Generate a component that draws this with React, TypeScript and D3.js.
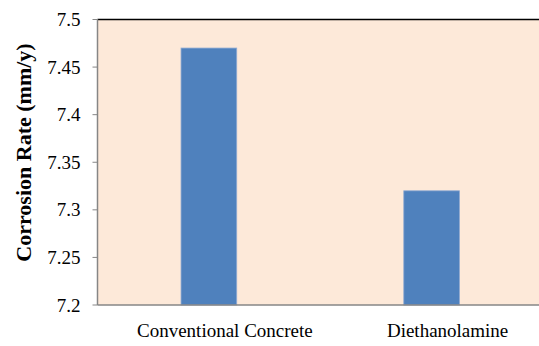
import React from "react";
import * as d3 from "d3";

const categories = ["Conventional Concrete", "Diethanolamine"];
const corrosionRates = [7.47, 7.32];
const yTicks = [7.2, 7.25, 7.3, 7.35, 7.4, 7.45, 7.5];
const yLabel = "Corrosion Rate (mm/y)";

const W = 539;
const H = 346;
const margin = { left: 97.5, top: 19.5, right: -4, bottom: 41 };
const FONT = "Liberation Serif";

export default function App() {
  const x0 = margin.left;
  const x1 = W - margin.right;
  const y0 = H - margin.bottom;
  const y1 = margin.top;

  const x = d3.scaleBand<string>().domain(categories).range([x0, x1]).paddingInner(0.75).paddingOuter(0.375);
  const y = d3.scaleLinear().domain([7.2, 7.5]).range([y0, y1]);

  return (
    <svg width={W} height={H} style={{ position: "absolute", left: 0, top: 0, fontFamily: FONT }}>
      <rect x={x0} y={y1} width={x1 - x0} height={y0 - y1} fill="#FDE9D9" />
      {categories.map((c, i) => (
        <rect
          key={c}
          x={x(c)!}
          y={y(corrosionRates[i])}
          width={x.bandwidth()}
          height={y0 - y(corrosionRates[i])}
          fill="#4F81BD"
          stroke="#8FAAD2"
          strokeWidth={0.8}
        />
      ))}
      <line x1={x0} x2={x1} y1={y1} y2={y1} stroke="#000" strokeWidth={1.5} />
      <line x1={x0} x2={x0} y1={y1} y2={y0} stroke="#868686" strokeWidth={1.5} />
      <line x1={x0} x2={x1} y1={y0} y2={y0} stroke="#868686" strokeWidth={1.5} />
      {yTicks.map((t) => (
        <g key={t}>
          <line x1={x0 - 5} x2={x0} y1={y(t)} y2={y(t)} stroke="#868686" strokeWidth={1} />
          <text x={80.5} y={y(t) + 6.5} textAnchor="end" fontSize={19} fill="#000" style={{ fontFamily: FONT }}>
            {d3.format("")(t)}
          </text>
        </g>
      ))}
      {categories.map((c) => (
        <text
          key={c}
          x={x(c)! + x.bandwidth() / 2 + 16}
          y={337}
          textAnchor="middle"
          fontSize={19}
          fill="#000"
          style={{ fontFamily: FONT }}
        >
          {c}
        </text>
      ))}
      <text
        transform={`translate(31,152.5) rotate(-90)`}
        textAnchor="middle"
        fontSize={22}
        fontWeight="bold"
        fill="#000"
        style={{ fontFamily: FONT }}
      >
        {yLabel}
      </text>
    </svg>
  );
}
